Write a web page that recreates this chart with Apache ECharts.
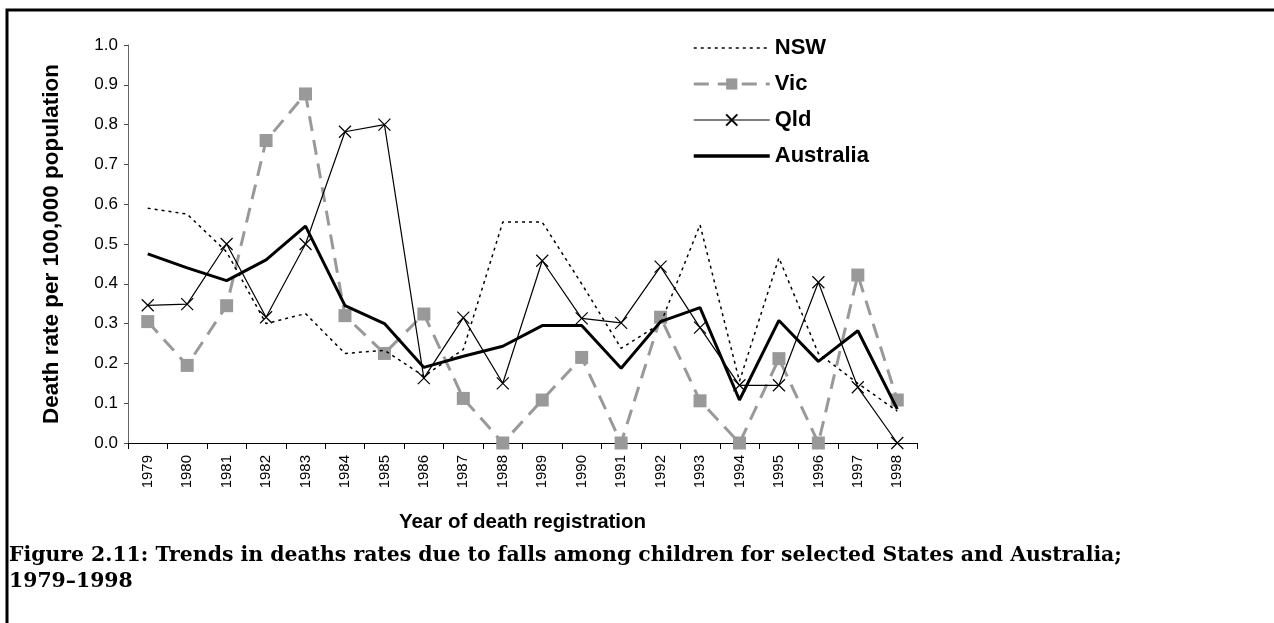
<!DOCTYPE html>
<html>
<head>
<meta charset="utf-8">
<script src="https://cdn.jsdelivr.net/npm/echarts@6/dist/echarts.min.js"></script>
<style>
  html, body { margin: 0; padding: 0; background: #fff; }
  #chart { width: 1274px; height: 623px; }
</style>
</head>
<body>
<div id="chart"></div>
<script>
  // 数据
  var years = ['1979', '1980', '1981', '1982', '1983', '1984', '1985', '1986', '1987', '1988',
    '1989', '1990', '1991', '1992', '1993', '1994', '1995', '1996', '1997', '1998']
  var nsw = [0.59, 0.575, 0.48, 0.30, 0.325, 0.225, 0.233, 0.168, 0.235, 0.555,
    0.555, 0.40, 0.238, 0.30, 0.548, 0.155, 0.465, 0.225, 0.15, 0.08]
  var vic = [0.305, 0.195, 0.345, 0.76, 0.877, 0.32, 0.225, 0.324, 0.112, 0.0,
    0.108, 0.215, 0.0, 0.316, 0.106, 0.0, 0.212, 0.0, 0.422, 0.108]
  var qld = [0.346, 0.349, 0.50, 0.316, 0.50, 0.782, 0.80, 0.163, 0.315, 0.15,
    0.458, 0.313, 0.302, 0.443, 0.29, 0.145, 0.145, 0.404, 0.14, 0.0]
  var australia = [0.475, 0.44, 0.408, 0.46, 0.545, 0.345, 0.30, 0.19, 0.218, 0.243,
    0.295, 0.295, 0.188, 0.305, 0.34, 0.108, 0.308, 0.205, 0.282, 0.085]

  var sans = '"Liberation Sans", Arial, sans-serif'

  var chart = echarts.init(document.getElementById('chart'), null, { renderer: 'canvas' })
  chart.setOption({
    backgroundColor: '#fff',
    animation: false,
    // 外框和图注
    graphic: [
      {
        type: 'rect',
        shape: { x: 7, y: 10, width: 1400, height: 700 },
        style: { fill: 'none', stroke: '#000', lineWidth: 3 },
        silent: true
      },
      {
        type: 'text',
        left: 9,
        top: 543,
        style: {
          text: 'Figure 2.11: Trends in deaths rates due to falls among children for selected States and Australia;\n1979\u20131998',
          font: 'bold 20.4px "DejaVu Serif", "Liberation Serif", serif',
          fill: '#000',
          lineHeight: 26
        }
      }
    ],
    legend: {
      orient: 'vertical',
      left: 687,
      top: 32,
      itemWidth: 76,
      itemHeight: 14,
      itemGap: 14,
      // 图例线宽默认被限制, 逐项指定
      data: [
        { name: 'NSW', itemStyle: { opacity: 0 }, lineStyle: { width: 1.5 } },
        { name: 'Vic', lineStyle: { width: 3 } },
        { name: 'Qld', lineStyle: { width: 1.2 } },
        { name: 'Australia', itemStyle: { opacity: 0 }, lineStyle: { width: 3.5 } }
      ],
      textStyle: {
        fontFamily: sans,
        fontWeight: 'bold',
        fontSize: 22,
        color: '#000'
      }
    },
    grid: {
      left: 128,
      right: 357,
      top: 45,
      bottom: 180,
      containLabel: false
    },
    xAxis: {
      type: 'category',
      data: years,
      boundaryGap: true,
      name: 'Year of death registration',
      nameLocation: 'middle',
      nameGap: 69,
      nameTextStyle: {
        fontFamily: sans,
        fontWeight: 'bold',
        fontSize: 20.5,
        color: '#000'
      },
      axisLine: { lineStyle: { color: '#000', width: 1 } },
      axisTick: { show: true, length: 6, lineStyle: { color: '#000' } },
      axisLabel: {
        rotate: 90,
        interval: 0,
        margin: 12,
        fontFamily: sans,
        fontSize: 15,
        color: '#000'
      },
      splitLine: { show: false }
    },
    yAxis: {
      type: 'value',
      min: 0,
      max: 1,
      interval: 0.1,
      name: 'Death rate per 100,000 population',
      nameLocation: 'middle',
      nameGap: 65,
      nameTextStyle: {
        fontFamily: sans,
        fontWeight: 'bold',
        fontSize: 22.5,
        color: '#000'
      },
      axisLine: { show: true, lineStyle: { color: '#666', width: 1 } },
      axisTick: { show: true, length: 4, lineStyle: { color: '#444' } },
      axisLabel: {
        margin: 10,
        fontFamily: sans,
        fontSize: 17,
        color: '#000',
        formatter: function (v) { return v.toFixed(1) }
      },
      splitLine: { show: false }
    },
    series: [
      {
        name: 'NSW',
        type: 'line',
        data: nsw,
        symbol: 'none',
        itemStyle: { color: '#000' },
        lineStyle: { color: '#000', width: 1.5, type: [3, 4] },
        z: 3
      },
      {
        name: 'Vic',
        type: 'line',
        data: vic,
        symbol: 'rect',
        symbolSize: 13,
        itemStyle: { color: '#999', borderWidth: 0 },
        lineStyle: { color: '#999', width: 3, type: [15, 9] },
        z: 2
      },
      {
        name: 'Qld',
        type: 'line',
        data: qld,
        symbol: 'path://M0,0L10,10M10,0L0,10',
        symbolSize: 12,
        itemStyle: { color: '#000', borderColor: '#000', borderWidth: 1.2 },
        lineStyle: { color: '#000', width: 1.2 },
        z: 4
      },
      {
        name: 'Australia',
        type: 'line',
        data: australia,
        symbol: 'none',
        itemStyle: { color: '#000' },
        lineStyle: { color: '#000', width: 3 },
        z: 5
      }
    ]
  })
</script>
</body>
</html>
